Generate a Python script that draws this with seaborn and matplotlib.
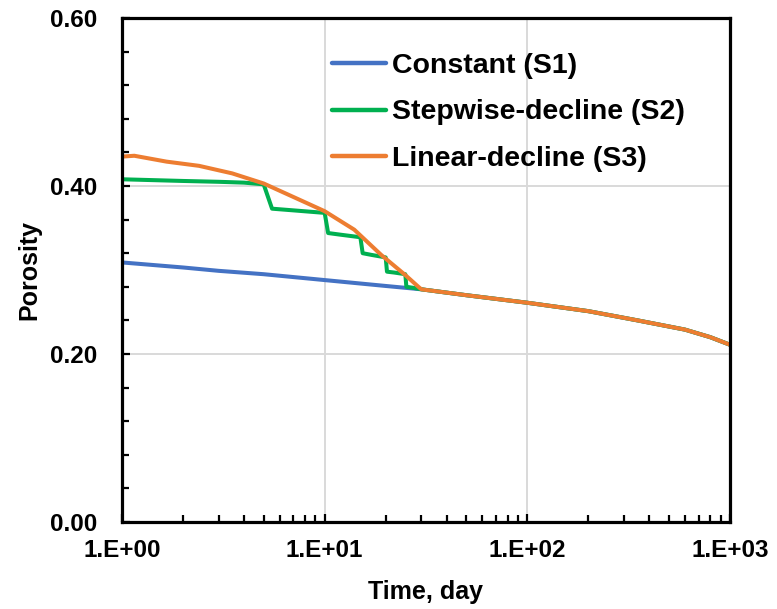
import numpy as np
import pandas as pd
import matplotlib
matplotlib.use("Agg")
import matplotlib.pyplot as plt
import seaborn as sns
from matplotlib.ticker import FixedLocator, LogLocator, MultipleLocator, FuncFormatter, NullFormatter

# ---- data ----
t_tail = [30, 50, 100, 200, 350, 600, 800, 1000]
phi_tail = [0.277, 0.270, 0.261, 0.251, 0.240, 0.229, 0.220, 0.211]

t_s1 = [1, 2, 3, 5, 10, 20]
phi_s1 = [0.309, 0.303, 0.299, 0.295, 0.288, 0.281]

t_s2 = [1, 2, 3, 4, 5, 5.5, 7, 10, 10.4, 12, 15, 15.4, 17, 20, 20.3, 22, 25, 25.3, 27]
phi_s2 = [0.408, 0.406, 0.405, 0.404, 0.402, 0.373, 0.371, 0.368, 0.344, 0.342,
          0.339, 0.320, 0.318, 0.315, 0.298, 0.297, 0.295, 0.280, 0.279]

t_s3 = [1, 1.15, 1.66, 2.4, 3.5, 5, 7, 10, 14, 19, 25, 29]
phi_s3 = [0.435, 0.436, 0.429, 0.424, 0.415, 0.403, 0.387, 0.370, 0.348, 0.318, 0.294, 0.280]

labels = ["Constant (S1)", "Stepwise-decline (S2)", "Linear-decline (S3)"]
colors = ["#4472C4", "#00B050", "#ED7D31"]

x_ticks = [1, 10, 100, 1000]
x_tick_labels = ["1.E+00", "1.E+01", "1.E+02", "1.E+03"]
y_ticks = [0.0, 0.2, 0.4, 0.6]

frames = []
for lab, t, p in zip(labels, [t_s1, t_s2, t_s3], [phi_s1, phi_s2, phi_s3]):
    frames.append(pd.DataFrame({"Time": list(t) + t_tail,
                                "Porosity": list(p) + phi_tail,
                                "Scenario": lab}))
df = pd.concat(frames, ignore_index=True)

sns.set_theme(style="white")
plt.rcParams["font.family"] = ["Liberation Sans", "DejaVu Sans"]
plt.rcParams["font.weight"] = "bold"
plt.rcParams["text.color"] = "black"

fig = plt.figure(figsize=(7.77, 6.09), dpi=100)
ax = fig.add_axes([122 / 777, 1 - 522 / 609, (730 - 122) / 777, (522 - 18) / 609])

sns.lineplot(data=df, x="Time", y="Porosity", hue="Scenario", hue_order=labels,
             palette=colors, estimator=None, sort=False, linewidth=2.9, ax=ax)

ax.set_xscale("log")
ax.set_xlim(1, 1000)
ax.set_ylim(0, 0.6)

ax.xaxis.set_major_locator(FixedLocator(x_ticks))
ax.set_xticklabels(x_tick_labels)
ax.xaxis.set_minor_locator(LogLocator(base=10, subs=np.arange(2, 10)))
ax.xaxis.set_minor_formatter(NullFormatter())
ax.yaxis.set_major_locator(FixedLocator(y_ticks))
ax.yaxis.set_minor_locator(MultipleLocator(0.04))
ax.yaxis.set_major_formatter(FuncFormatter(lambda v, _: f"{v:.2f}"))

ax.grid(True, which="major", color="#D9D9D9", linewidth=1.4)
for s in ax.spines.values():
    s.set_visible(True)
    s.set_color("black")
    s.set_linewidth(2.3)

ax.tick_params(axis="both", which="both", direction="in", color="black",
               bottom=True, left=True, top=False, right=False,
               width=1.6, labelsize=17.5, labelcolor="black")
ax.tick_params(axis="both", which="major", length=6)
ax.tick_params(axis="both", which="minor", length=5)
ax.tick_params(axis="y", which="major", pad=18)
ax.tick_params(axis="x", which="major", pad=12)
for lbl in ax.get_xticklabels() + ax.get_yticklabels():
    lbl.set_fontweight("bold")

ax.set_xlabel("Time, day", fontsize=18, fontweight="bold", color="black", labelpad=13)
ax.set_ylabel("Porosity", fontsize=18, fontweight="bold", color="black", labelpad=6)

leg = ax.legend(loc="upper left", bbox_to_anchor=(0.303, 0.982), frameon=False,
                handlelength=1.9, handletextpad=0.2, labelspacing=0.73,
                borderpad=0.4, prop={"size": 20.5, "weight": "bold"})
for h in leg.get_lines():
    h.set_linewidth(3.2)
for txt in leg.get_texts():
    txt.set_color("black")

fig.savefig("out.png", dpi=100)
